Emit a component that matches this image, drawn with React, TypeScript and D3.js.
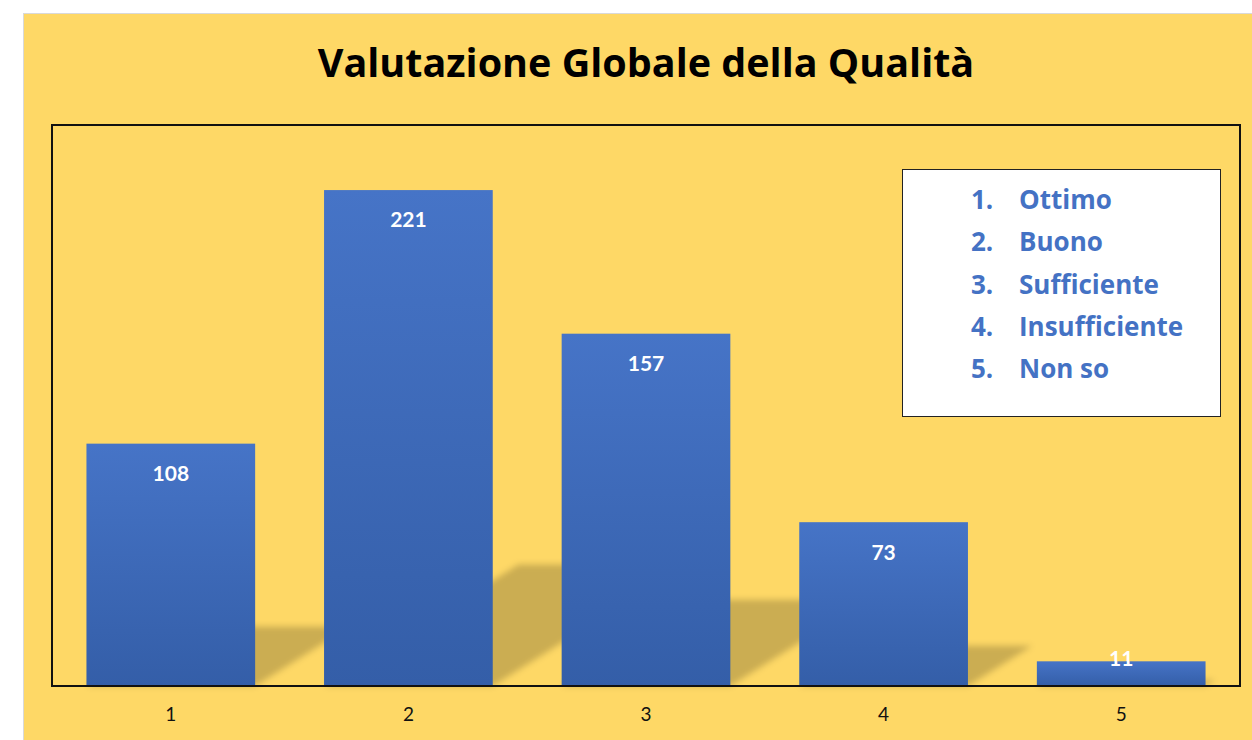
import { useRef, useEffect } from "react";
import { select, scaleBand, scaleLinear, axisBottom } from "d3";

const categories = ["1", "2", "3", "4", "5"];
const values = [108, 221, 157, 73, 11];
const legendNumbers = ["1.", "2.", "3.", "4.", "5."];
const legendLabels = ["Ottimo", "Buono", "Sufficiente", "Insufficiente", "Non so"];
const title = "Valutazione Globale della Qualità";

const W = 1252;
const H = 740;
const plot = { left: 52, top: 125, right: 1240, bottom: 686 };
const font = "Lato, 'Open Sans', sans-serif";
const wideFont = "'Open Sans', Lato, sans-serif";

function App() {
  const svgRef = useRef<SVGSVGElement>(null);

  useEffect(() => {
    document.body.style.margin = "0";
    const svg = select(svgRef.current);
    svg.selectAll("*").remove();

    const defs = svg.append("defs");
    const grad = defs
      .append("linearGradient")
      .attr("id", "barGrad")
      .attr("x1", 0)
      .attr("y1", 0)
      .attr("x2", 0)
      .attr("y2", 1);
    grad.append("stop").attr("offset", "0%").attr("stop-color", "#4674c7");
    grad.append("stop").attr("offset", "100%").attr("stop-color", "#345ea8");

    defs
      .append("filter")
      .attr("id", "blur")
      .attr("x", "-20%")
      .attr("y", "-20%")
      .attr("width", "140%")
      .attr("height", "140%")
      .append("feGaussianBlur")
      .attr("stdDeviation", 3);

    // page + chart area
    svg.append("rect").attr("width", W).attr("height", H).attr("fill", "#ffffff");
    svg
      .append("rect")
      .attr("x", 23.5)
      .attr("y", 13.5)
      .attr("width", W)
      .attr("height", H)
      .attr("fill", "#fed866")
      .attr("stroke", "#d9d9d9");

    svg
      .append("text")
      .attr("x", 646)
      .attr("y", 77)
      .attr("text-anchor", "middle")
      .attr("font-family", wideFont)
      .attr("font-weight", "bold")
      .attr("font-size", 39.5)
      .attr("fill", "#000")
      .text(title);

    const x = scaleBand()
      .domain(categories)
      .range([plot.left, plot.right])
      .paddingInner(0.29)
      .paddingOuter(0.145);
    const y = scaleLinear().domain([0, 250]).range([plot.bottom, plot.top]);

    const data = categories.map((c, i) => ({ cat: c, value: values[i] }));

    // perspective shadows
    const shadowScale = 0.245;
    const skew = 1.6;
    svg
      .append("g")
      .attr("filter", "url(#blur)")
      .selectAll("path")
      .data(data)
      .enter()
      .append("path")
      .attr("fill", "#000")
      .attr("fill-opacity", 0.2)
      .attr("d", (d) => {
        const x0 = x(d.cat)!;
        const x1 = x0 + x.bandwidth();
        const h = (y(0) - y(d.value)) * shadowScale;
        const dx = h * skew;
        const b = plot.bottom;
        return `M${x0},${b}L${x1},${b}L${x1 + dx},${b - h}L${x0 + dx},${b - h}Z`;
      });

    const bars = svg.append("g").selectAll("g").data(data).enter().append("g");
    bars
      .append("rect")
      .attr("x", (d) => x(d.cat)!)
      .attr("y", (d) => y(d.value))
      .attr("width", x.bandwidth())
      .attr("height", (d) => y(0) - y(d.value))
      .attr("fill", "url(#barGrad)");

    bars
      .append("text")
      .attr("x", (d) => x(d.cat)! + x.bandwidth() / 2)
      .attr("y", (d) => Math.min(y(d.value) + 30, plot.bottom - 27))
      .attr("dy", "0.35em")
      .attr("text-anchor", "middle")
      .attr("font-family", font)
      .attr("font-weight", "bold")
      .attr("font-size", 21)
      .attr("fill", "#ffffff")
      .text((d) => `${d.value}`);

    // frame
    svg
      .append("rect")
      .attr("x", plot.left)
      .attr("y", plot.top)
      .attr("width", plot.right - plot.left)
      .attr("height", plot.bottom - plot.top)
      .attr("fill", "none")
      .attr("stroke", "#111")
      .attr("stroke-width", 2);

    const xAxis = svg
      .append("g")
      .attr("transform", `translate(0, ${plot.bottom})`)
      .call(axisBottom(x).tickSize(0).tickPadding(22));
    xAxis.select(".domain").remove();
    xAxis
      .selectAll("text")
      .attr("font-family", font)
      .attr("font-size", 19)
      .attr("fill", "#111");

    // legend box
    const lg = svg.append("g");
    lg.append("rect")
      .attr("x", 902.5)
      .attr("y", 169.5)
      .attr("width", 318)
      .attr("height", 247)
      .attr("fill", "#ffffff")
      .attr("stroke", "#222");
    legendLabels.forEach((label, i) => {
      const ty = 200 + i * 42.2;
      lg.append("text")
        .attr("x", 971)
        .attr("y", ty)
        .attr("dy", "0.35em")
        .attr("font-family", wideFont)
        .attr("font-weight", "bold")
        .attr("font-size", 26)
        .attr("fill", "#4472c4")
        .text(legendNumbers[i]);
      lg.append("text")
        .attr("x", 1019)
        .attr("y", ty)
        .attr("dy", "0.35em")
        .attr("font-family", wideFont)
        .attr("font-weight", "bold")
        .attr("font-size", 26)
        .attr("fill", "#4472c4")
        .text(label);
    });
  }, []);

  return (
    <svg
      ref={svgRef}
      width={W}
      height={H}
      style={{ position: "absolute", left: 0, top: 0, display: "block" }}
    />
  );
}

export default App;
